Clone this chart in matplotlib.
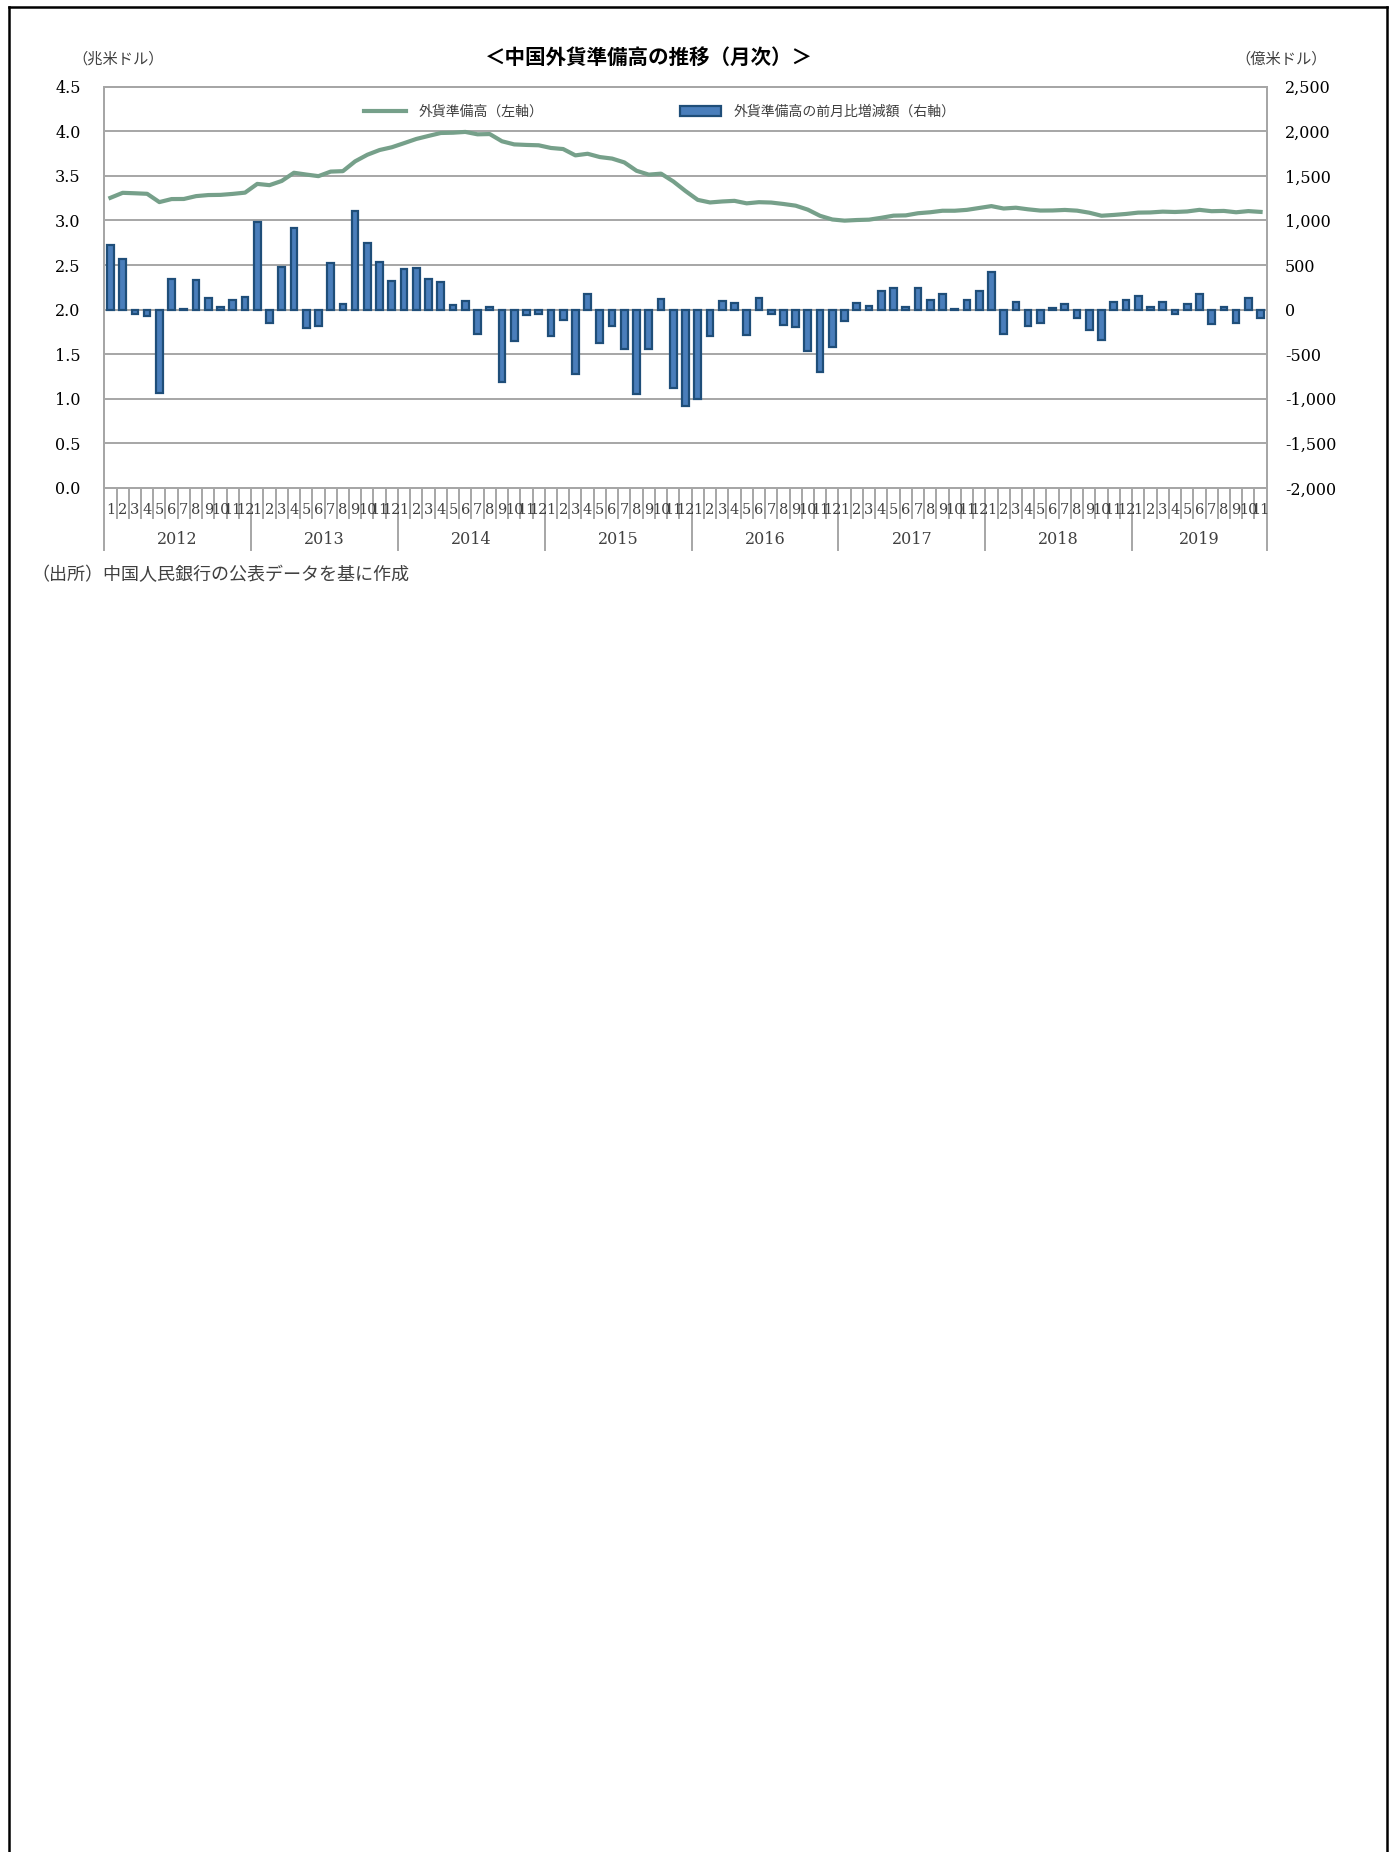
import numpy as np
import matplotlib
matplotlib.use("Agg")
import matplotlib.pyplot as plt
from matplotlib.lines import Line2D

plt.rcParams['font.family'] = ['Noto Sans CJK JP', 'DejaVu Sans']

# 外貨準備高（兆米ドル）2012年1月～2019年11月
years = ['2012', '2013', '2014', '2015', '2016', '2017', '2018', '2019']
reserves = [
    3.254, 3.310, 3.305, 3.299, 3.206, 3.240, 3.241, 3.273, 3.285, 3.287, 3.298, 3.312,
    3.410, 3.396, 3.443, 3.535, 3.515, 3.497, 3.548, 3.553, 3.663, 3.737, 3.790, 3.821,
    3.867, 3.914, 3.948, 3.981, 3.984, 3.993, 3.966, 3.969, 3.888, 3.853, 3.847, 3.843,
    3.813, 3.801, 3.730, 3.748, 3.711, 3.694, 3.651, 3.557, 3.514, 3.525, 3.438, 3.330,
    3.231, 3.202, 3.213, 3.220, 3.192, 3.205, 3.201, 3.185, 3.166, 3.121, 3.052, 3.011,
    2.998, 3.005, 3.009, 3.030, 3.054, 3.057, 3.081, 3.092, 3.109, 3.109, 3.119, 3.140,
    3.161, 3.134, 3.143, 3.125, 3.111, 3.112, 3.118, 3.110, 3.087, 3.053, 3.062, 3.073,
    3.088, 3.090, 3.099, 3.095, 3.101, 3.119, 3.104, 3.107, 3.092, 3.105, 3.096,
]
# 前月比増減額（億米ドル）
changes = [
    729, 566, -51, -69, -934, 343, 6, 330, 129, 30, 103, 146,
    986, -154, 476, 921, -201, -189, 519, 60, 1101, 746, 531, 326,
    459, 471, 347, 313, 56, 94, -274, 30, -814, -351, -64, -51,
    -300, -120, -720, 180, -377, -180, -437, -943, -437, 116, -874, -1080,
    -999, -291, 99, 73, -287, 133, -51, -167, -197, -463, -694, -416,
    -129, 73, 43, 206, 240, 34, 240, 111, 171, 9, 103, 206,
    420, -274, 81, -180, -150, 21, 60, -90, -231, -343, 86, 111,
    154, 30, 86, -47, 60, 180, -163, 34, -154, 129, -99,
]
months = [str(m) for y in years for m in range(1, 13)][:len(reserves)]

W, H = 1394, 1852
fig = plt.figure(figsize=(W / 100, H / 100), dpi=100)

# プロット領域（ピクセル）
left, right, top, bottom = 104.3, 1266.7, 86.7, 488.0
ax2 = fig.add_axes([left / W, 1 - bottom / H, (right - left) / W, (bottom - top) / H])
ax1 = ax2.twinx()
ax1.yaxis.tick_left()
ax2.yaxis.tick_right()

x = np.arange(len(reserves))
grid_col = '#A6A6A6'
num_font = ['DejaVu Serif']

# 棒グラフ（右軸）
bars = ax2.bar(x, changes, width=0.55, color='#4A7EBB', edgecolor='#1F4E79',
               linewidth=1.6, zorder=3)
ax2.set_ylim(-2000, 2500)
ax2.set_yticks(np.arange(-2000, 2501, 500))
ax2.set_yticklabels([f'{v:,}' for v in range(-2000, 2501, 500)], fontfamily=num_font, fontsize=11.5)
ax2.yaxis.grid(True, color=grid_col, linewidth=1.4, zorder=0)
ax2.set_axisbelow(True)
ax2.tick_params(axis='y', length=0, pad=13)

# 折れ線（左軸）
line, = ax1.plot(x, reserves, color='#76A08A', linewidth=3.0, zorder=4)
ax1.set_ylim(0, 4.5)
ax1.set_yticks(np.arange(0, 4.51, 0.5))
ax1.set_yticklabels([f'{v:.1f}' for v in np.arange(0, 4.51, 0.5)], fontfamily=num_font, fontsize=11.5)
ax1.tick_params(axis='y', length=0, pad=17)
ax1.set_zorder(ax2.get_zorder() + 1)
ax1.patch.set_visible(False)

for a in (ax1, ax2):
    a.set_xlim(-0.5, len(reserves) - 0.5)
    a.set_xticks([])
    for s in a.spines.values():
        s.set_color(grid_col)
        s.set_linewidth(1.4)

# 月・年ラベルと区切り線
trans = ax1.get_xaxis_transform()
axh = bottom - top
for i, m in enumerate(months):
    ax1.text(i, -(510 - bottom) / axh, m, transform=trans, ha='center', va='center',
             fontsize=10.5, fontfamily=num_font, color='#404040', clip_on=False)
for i in range(len(months) + 1):
    depth = 550 if i % 12 == 0 or i == len(months) else 518
    ax1.add_line(Line2D([i - 0.5, i - 0.5], [0, -(depth - bottom) / axh], transform=trans,
                        color=grid_col, linewidth=1.4, clip_on=False))
for k, y in enumerate(years):
    start = k * 12 - 0.5
    end = min(k * 12 + 11.5, len(months) - 0.5)
    ax1.text((start + end) / 2, -(540 - bottom) / axh, y, transform=trans, ha='center', va='center',
             fontsize=11.5, fontfamily=num_font, color='#404040', clip_on=False)

# 凡例
ax1.legend([line, bars], ['外貨準備高（左軸）', '外貨準備高の前月比増減額（右軸）'],
           loc='center left', bbox_to_anchor=(0.213, 0.937), ncol=2, frameon=False,
           fontsize=10, handlelength=3.0, handletextpad=0.9, columnspacing=9.8,
           labelcolor='#404040')

# タイトル・単位・出所
fig.text(649 / W, 1 - 57 / H, '＜中国外貨準備高の推移（月次）＞', ha='center', va='center',
         fontsize=14.8, fontweight='bold')
fig.text(72 / W, 1 - 59 / H, '（兆米ドル）', ha='left', va='center', fontsize=11, color='#404040')
fig.text(1235 / W, 1 - 59 / H, '（億米ドル）', ha='left', va='center', fontsize=11, color='#404040')
fig.text(31 / W, 1 - 575 / H, '（出所）中国人民銀行の公表データを基に作成', ha='left', va='center',
         fontsize=13, color='#404040')

# ページ枠
for xs, ys in [([9, 9], [7, H]), ([1387, 1387], [7, H]), ([9, 1387], [7, 7])]:
    fig.add_artist(Line2D([v / W for v in xs], [1 - v / H for v in ys], color='black', linewidth=1.8))

fig.savefig('out.png', dpi=100)
